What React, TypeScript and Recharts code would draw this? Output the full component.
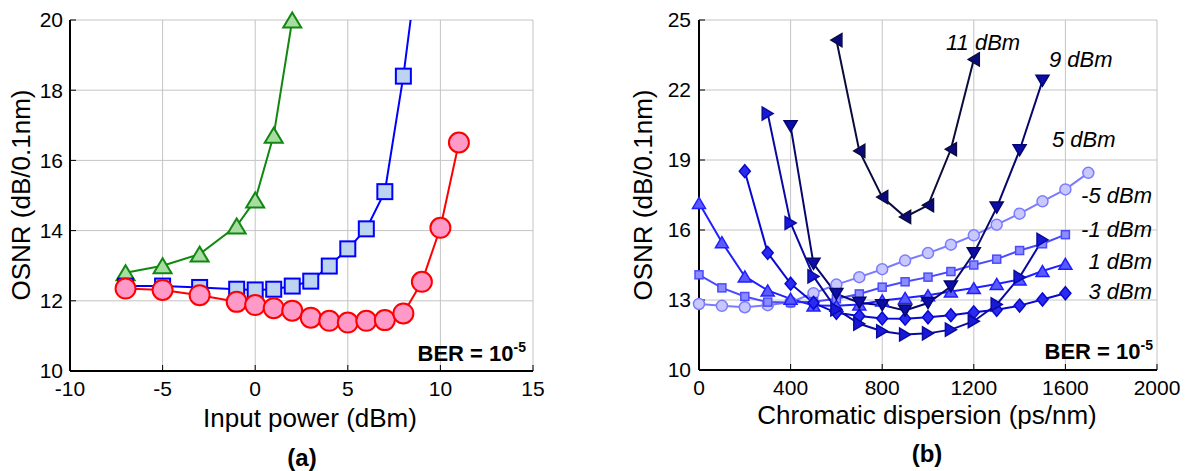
import React from 'react';
import { LineChart, Line, XAxis, YAxis, CartesianGrid } from 'recharts';

const FONT = 'Arial, "Liberation Sans", Helvetica, sans-serif';

// (a) OSNR vs input power
const triPower = [-7, -5, -3, -1, 0, 1, 2];
const triOsnr = [12.8, 13.0, 13.33, 14.13, 14.87, 16.72, 20.0];
const sqPower = [-7, -5, -3, -1, 0, 1, 2, 3, 4, 5, 6, 7, 8, 9];
const sqOsnr = [12.42, 12.42, 12.38, 12.33, 12.31, 12.33, 12.42, 12.56, 12.99, 13.48, 14.05, 15.11, 18.4, 22.5];
const circPower = [-7, -5, -3, -1, 0, 1, 2, 3, 4, 5, 6, 7, 8, 9, 10, 11];
const circOsnr = [12.35, 12.31, 12.16, 11.97, 11.88, 11.79, 11.72, 11.52, 11.43, 11.38, 11.43, 11.45, 11.64, 12.54, 14.08, 16.51];
const powerTicks = [-10, -5, 0, 5, 10, 15];
const osnrTicksA = [10, 12, 14, 16, 18, 20];

// (b) OSNR vs chromatic dispersion, one curve per launch power
const cdM5 = [0, 100, 200, 300, 400, 500, 600, 700, 800, 900, 1000, 1100, 1200, 1300, 1400, 1500, 1600, 1700];
const osnrM5 = [12.83, 12.75, 12.69, 12.78, 12.91, 13.29, 13.66, 13.98, 14.32, 14.69, 15.01, 15.37, 15.77, 16.23, 16.7, 17.23, 17.74, 18.45];
const cdM1 = [0, 100, 200, 300, 400, 500, 600, 700, 800, 900, 1000, 1100, 1200, 1300, 1400, 1500, 1600];
const osnrM1 = [14.08, 13.52, 13.15, 12.91, 12.89, 12.93, 13.05, 13.26, 13.55, 13.78, 13.98, 14.22, 14.5, 14.75, 15.12, 15.41, 15.8];
const cdP1 = [0, 100, 200, 300, 400, 500, 600, 700, 800, 900, 1000, 1100, 1200, 1300, 1400, 1500, 1600];
const osnrP1 = [17.16, 15.48, 14.01, 13.41, 13.05, 12.76, 12.75, 12.81, 12.98, 13.09, 13.2, 13.36, 13.51, 13.69, 13.88, 14.24, 14.55];
const cdP3 = [200, 300, 400, 500, 600, 700, 800, 900, 1000, 1100, 1200, 1300, 1400, 1500, 1600];
const osnrP3 = [18.52, 15.02, 13.7, 12.88, 12.45, 12.31, 12.21, 12.2, 12.26, 12.35, 12.47, 12.58, 12.76, 13.02, 13.29];
const cdP5 = [300, 400, 500, 600, 700, 800, 900, 1000, 1100, 1200, 1300, 1400, 1500];
const osnrP5 = [20.99, 16.3, 14.01, 12.6, 11.98, 11.66, 11.52, 11.57, 11.73, 12.09, 12.81, 13.98, 15.58];
const cdP9 = [400, 500, 600, 700, 800, 900, 1000, 1100, 1200, 1300, 1400, 1500];
const osnrP9 = [20.45, 14.55, 13.26, 12.88, 12.78, 12.55, 12.87, 13.58, 15.0, 16.96, 19.42, 22.4];
const cdP11 = [600, 700, 800, 900, 1000, 1100, 1200];
const osnrP11 = [24.14, 19.39, 17.41, 16.56, 17.06, 19.46, 23.31];
const cdTicks = [0, 400, 800, 1200, 1600, 2000];
const osnrTicksB = [10, 13, 16, 19, 22, 25];

const zip = (xs: number[], ys: number[]) => xs.map((x, i) => ({ x, y: ys[i] }));

type Shape = 'circle' | 'square' | 'up' | 'down' | 'left' | 'right' | 'diamond';

const marker = (shape: Shape, w: number, h: number, fill: string, stroke: string, sw: number) =>
  (props: any) => {
    const { cx, cy, index } = props;
    if (cx == null || cy == null) return <g key={index} />;
    const common = { fill, stroke, strokeWidth: sw, key: index };
    let pts = '';
    switch (shape) {
      case 'circle':
        return <circle {...common} cx={cx} cy={cy} r={w} />;
      case 'square':
        return <rect {...common} x={cx - w} y={cy - w} width={2 * w} height={2 * w} />;
      case 'up':
        pts = `${cx},${cy - h} ${cx + w},${cy + h} ${cx - w},${cy + h}`;
        break;
      case 'down':
        pts = `${cx},${cy + h} ${cx + w},${cy - h} ${cx - w},${cy - h}`;
        break;
      case 'right':
        pts = `${cx + h},${cy} ${cx - h},${cy - w} ${cx - h},${cy + w}`;
        break;
      case 'left':
        pts = `${cx - h},${cy} ${cx + h},${cy - w} ${cx + h},${cy + w}`;
        break;
      default:
        pts = `${cx},${cy - w} ${cx + h},${cy} ${cx},${cy + w} ${cx - h},${cy}`;
    }
    return <polygon {...common} points={pts} />;
  };

const tickStyle = { fill: '#000', fontSize: 21, fontFamily: FONT };
const border = { stroke: '#000', strokeWidth: 2 };
const tickLn = { stroke: '#000', strokeWidth: 1 };

const seriesB = [
  { data: zip(cdM5, osnrM5), line: '#7b7bff', fill: '#c8c8ff', shape: 'circle' as Shape, w: 5.5, h: 5.5 },
  { data: zip(cdM1, osnrM1), line: '#4a4aff', fill: '#8c8cff', shape: 'square' as Shape, w: 4, h: 4 },
  { data: zip(cdP1, osnrP1), line: '#1f1fff', fill: '#5a5aff', shape: 'up' as Shape, w: 6.5, h: 5.5 },
  { data: zip(cdP3, osnrP3), line: '#0808d0', fill: '#2a2af0', shape: 'diamond' as Shape, w: 6.5, h: 5.5 },
  { data: zip(cdP5, osnrP5), line: '#0a0aa0', fill: '#1818d8', shape: 'right' as Shape, w: 6.5, h: 5.5 },
  { data: zip(cdP9, osnrP9), line: '#06066e', fill: '#0c0ca8', shape: 'down' as Shape, w: 6.5, h: 5.5 },
  { data: zip(cdP11, osnrP11), line: '#0b0b3c', fill: '#0a0a80', shape: 'left' as Shape, w: 6.5, h: 5.5 },
];

const ChartA = () => (
  <LineChart width={560} height={471} margin={{ top: 20, right: 27, bottom: 0, left: 0 }}>
    <CartesianGrid stroke="#c4c4c4" strokeWidth={1} />
    <XAxis type="number" dataKey="x" domain={[-10, 15]} ticks={powerTicks} interval={0} height={100}
      tickSize={-6} tickMargin={16} axisLine={border} tickLine={tickLn} tick={tickStyle} />
    <XAxis xAxisId="top" orientation="top" type="number" dataKey="x" domain={[-10, 15]} ticks={powerTicks}
      height={0} mirror tick={false} tickSize={6} axisLine={border} tickLine={tickLn} />
    <YAxis type="number" domain={[10, 20]} ticks={osnrTicksA} interval={0} width={70}
      tickSize={-6} tickMargin={13} axisLine={border} tickLine={tickLn} tick={tickStyle} />
    <YAxis yAxisId="right" orientation="right" type="number" domain={[10, 20]} ticks={osnrTicksA}
      width={0} mirror tick={false} tickSize={6} axisLine={border} tickLine={tickLn} />
    <YAxis yAxisId="clip" hide type="number" domain={[10, 20]} allowDataOverflow />
    <Line data={zip(triPower, triOsnr)} dataKey="y" stroke="#118811" strokeWidth={2} isAnimationActive={false}
      dot={marker('up', 9, 7.5, '#a8dca0', '#118811', 2)} />
    <Line yAxisId="clip" data={zip(sqPower, sqOsnr)} dataKey="y" stroke="#0000ff" strokeWidth={2} isAnimationActive={false}
      dot={marker('square', 7.5, 7.5, '#bcd4f0', '#0000ff', 2)} />
    <Line data={zip(circPower, circOsnr)} dataKey="y" stroke="#ff0000" strokeWidth={2} isAnimationActive={false}
      dot={marker('circle', 10, 10, '#ff9ac8', '#ff0000', 2)} />
  </LineChart>
);

const ChartB = () => (
  <LineChart width={598} height={471} margin={{ top: 20, right: 41, bottom: 0, left: 0 }}>
    <CartesianGrid stroke="#c4c4c4" strokeWidth={1} />
    <XAxis type="number" dataKey="x" domain={[0, 2000]} ticks={cdTicks} interval={0} height={101}
      tickSize={-6} tickMargin={16} axisLine={border} tickLine={tickLn} tick={tickStyle} />
    <XAxis xAxisId="top" orientation="top" type="number" dataKey="x" domain={[0, 2000]} ticks={cdTicks}
      height={0} mirror tick={false} tickSize={6} axisLine={border} tickLine={tickLn} />
    <YAxis type="number" domain={[10, 25]} ticks={osnrTicksB} interval={0} width={99}
      tickSize={-6} tickMargin={14} axisLine={border} tickLine={tickLn} tick={tickStyle} />
    <YAxis yAxisId="right" orientation="right" type="number" domain={[10, 25]} ticks={osnrTicksB}
      width={0} mirror tick={false} tickSize={6} axisLine={border} tickLine={tickLn} />
    {seriesB.map((s, i) => (
      <Line key={i} data={s.data} dataKey="y" stroke={s.line} strokeWidth={2} isAnimationActive={false}
        dot={marker(s.shape, s.w, s.h, s.fill, s.line, 1.5)} />
    ))}
  </LineChart>
);

const italic = { fontFamily: FONT, fontSize: 22, fontStyle: 'italic', fill: '#000' } as const;
const title = { fontFamily: FONT, fontSize: 26, fill: '#000' } as const;
const bold = { fontFamily: FONT, fontSize: 22, fontWeight: 'bold', fill: '#000' } as const;

const Overlay = () => (
  <svg width={1198} height={471} style={{ position: 'absolute', left: 0, top: 0, pointerEvents: 'none' }}>
    <text {...title} textAnchor="middle" transform="translate(30,195) rotate(-90)">OSNR (dB/0.1nm)</text>
    <text {...title} textAnchor="middle" transform="translate(652,195) rotate(-90)">OSNR (dB/0.1nm)</text>
    <text {...title} textAnchor="middle" x={310} y={427}>Input power (dBm)</text>
    <text {...title} textAnchor="middle" x={927} y={424}>Chromatic dispersion (ps/nm)</text>
    <text {...bold} fontSize={24} textAnchor="middle" x={302} y={466}>(a)</text>
    <text {...bold} fontSize={24} textAnchor="middle" x={927} y={462}>(b)</text>
    <text {...bold} textAnchor="end" x={526} y={361}>BER = 10<tspan dy={-9} fontSize={14}>-5</tspan></text>
    <text {...bold} textAnchor="end" x={1153} y={359}>BER = 10<tspan dy={-9} fontSize={14}>-5</tspan></text>
    <text {...italic} x={946} y={50}>11 dBm</text>
    <text {...italic} x={1049} y={67}>9 dBm</text>
    <text {...italic} x={1052} y={147}>5 dBm</text>
    <text {...italic} textAnchor="end" x={1152} y={203}>-5 dBm</text>
    <text {...italic} textAnchor="end" x={1152} y={237}>-1 dBm</text>
    <text {...italic} textAnchor="end" x={1152} y={269}>1 dBm</text>
    <text {...italic} textAnchor="end" x={1152} y={299}>3 dBm</text>
  </svg>
);

export default function App() {
  return (
    <div style={{ position: 'absolute', left: 0, top: 0, width: 1198, height: 471, background: '#fff', fontFamily: FONT }}>
      <div style={{ position: 'absolute', left: 0, top: 0 }}>
        <ChartA />
      </div>
      <div style={{ position: 'absolute', left: 600, top: 0 }}>
        <ChartB />
      </div>
      <Overlay />
    </div>
  );
}
